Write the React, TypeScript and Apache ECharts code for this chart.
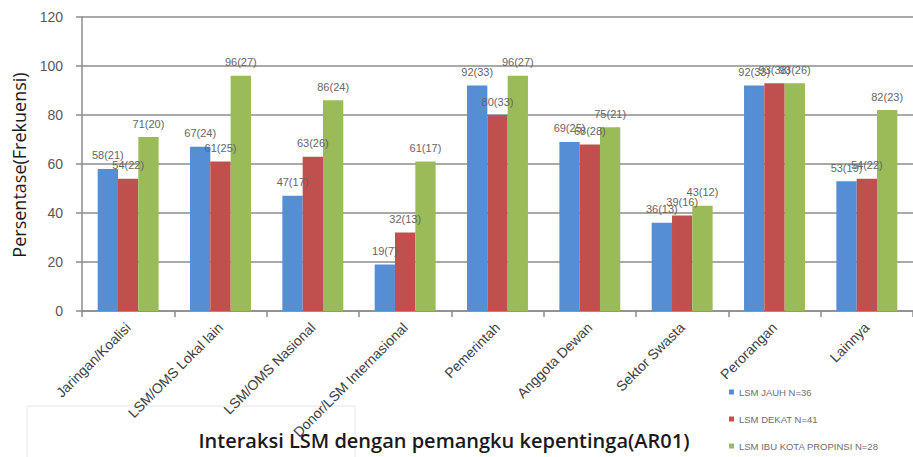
import React, { useEffect, useRef } from "react";
import * as echarts from "echarts";

const categories = [
  "Jaringan/Koalisi",
  "LSM/OMS Lokal lain",
  "LSM/OMS Nasional",
  "Donor/LSM Internasional",
  "Pemerintah",
  "Anggota Dewan",
  "Sektor Swasta",
  "Perorangan",
  "Lainnya",
];
const seriesNames = ["LSM JAUH N=36", "LSM DEKAT N=41", "LSM IBU KOTA PROPINSI N=28"];
const jauhValues = [58, 67, 47, 19, 92, 69, 36, 92, 53];
const jauhCounts = [21, 24, 17, 7, 33, 25, 13, 33, 19];
const dekatValues = [54, 61, 63, 32, 80, 68, 39, 93, 54];
const dekatCounts = [22, 25, 26, 13, 33, 28, 16, 38, 22];
const kotaValues = [71, 96, 86, 61, 96, 75, 43, 93, 82];
const kotaCounts = [20, 27, 24, 17, 27, 21, 12, 26, 23];
const colors = ["#558ED5", "#C0504D", "#9BBB59"];

export default function App() {
  const ref = useRef<HTMLDivElement>(null);
  useEffect(() => {
    if (!ref.current) return;
    const chart = echarts.init(ref.current, null, { renderer: "svg" });
    const mk = (name: string, vals: number[], counts: number[], color: string) => ({
      name,
      type: "bar",
      data: vals,
      barGap: "0%",
      barCategoryGap: "34%",
      itemStyle: { color },
      label: {
        show: true,
        position: "top",
        distance: 8,
        fontSize: 11,
        color: "#666666",
        fontFamily: "Liberation Sans, sans-serif",
        formatter: (p: any) => `${vals[p.dataIndex]}(${counts[p.dataIndex]})`,
      },
    });
    chart.setOption({
      animation: false,
      backgroundColor: "#ffffff",
      grid: { left: 82, top: 17, width: 846, bottom: 146, containLabel: false },
      legend: {
        orient: "vertical",
        left: 724,
        top: 382,
        itemGap: 17,
        itemWidth: 5,
        itemHeight: 5,
        icon: "rect",
        textStyle: { fontSize: 9.5, color: "#6e6e6e", fontFamily: "Liberation Sans, sans-serif" },
        data: seriesNames,
      },
      xAxis: {
        type: "category",
        data: categories,
        axisLine: { lineStyle: { color: "#8c8c8c", width: 1.5 } },
        axisTick: { show: true, length: 6, lineStyle: { color: "#8c8c8c", width: 1.5 } },
        axisLabel: {
          rotate: 45,
          interval: 0,
          fontSize: 14,
          color: "#404040",
          margin: 14,
          fontFamily: "Liberation Sans, sans-serif",
        },
      },
      yAxis: {
        type: "value",
        min: 0,
        max: 120,
        interval: 20,
        axisLine: { show: true, lineStyle: { color: "#8c8c8c", width: 1.5 } },
        axisTick: { show: true, length: 6, lineStyle: { color: "#8c8c8c", width: 1.5 } },
        axisLabel: { fontSize: 14, color: "#595959", margin: 19, fontFamily: "Liberation Sans, sans-serif" },
        splitLine: { lineStyle: { color: "#8c8c8c", width: 1.5 } },
      },
      graphic: [
        {
          type: "rect",
          shape: { x: 27, y: 406, width: 328, height: 60 },
          style: { fill: "none", stroke: "#e6e6e6", lineWidth: 1 },
          z: 0,
        },
        {
          type: "text",
          x: 444,
          y: 440,
          style: {
            text: "Interaksi LSM dengan pemangku kepentinga(AR01)",
            font: "600 20px 'Open Sans', sans-serif",
            fill: "#1a1a1a",
            align: "center",
            verticalAlign: "middle",
          },
        },
        {
          type: "text",
          x: 19,
          y: 165,
          rotation: Math.PI / 2,
          style: {
            text: "Persentase(Frekuensi)",
            font: "18px 'Open Sans', sans-serif",
            fill: "#1a1a1a",
            align: "center",
            verticalAlign: "middle",
          },
        },
      ],
      series: [
        mk(seriesNames[0], jauhValues, jauhCounts, colors[0]),
        mk(seriesNames[1], dekatValues, dekatCounts, colors[1]),
        mk(seriesNames[2], kotaValues, kotaCounts, colors[2]),
      ],
    });
    return () => chart.dispose();
  }, []);
  return (
    <div
      ref={ref}
      style={{ position: "fixed", left: 0, top: 0, width: 913, height: 457 }}
    />
  );
}
